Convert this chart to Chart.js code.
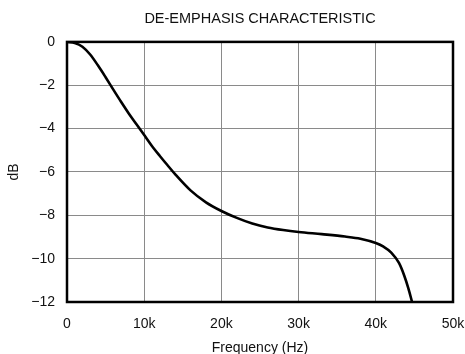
<!DOCTYPE html>
<html>
<head>
<meta charset="utf-8">
<script src="https://cdn.jsdelivr.net/npm/chart.js@4"></script>
<style>
  html, body { margin: 0; padding: 0; background: #fff; }
  #wrap { width: 465px; height: 354px; }
</style>
</head>
<body>
<div id="wrap"><canvas id="deemph"></canvas></div>
<script>
// curve
const freqs = [0, 1000, 2000, 3000, 4000, 5000, 6000, 7000, 8000, 9000, 10000, 11000, 12000, 13000, 14000, 16000, 18000, 20000, 22000, 24000, 26000, 28000, 30000, 33000, 36000, 38000, 40000, 41000, 42000, 43000, 43700, 44200, 44700];
const dbVals = [0, -0.05, -0.22, -0.58, -1.08, -1.63, -2.2, -2.76, -3.3, -3.8, -4.3, -4.8, -5.25, -5.68, -6.1, -6.85, -7.4, -7.8, -8.12, -8.38, -8.56, -8.68, -8.77, -8.87, -8.98, -9.08, -9.28, -9.45, -9.72, -10.2, -10.8, -11.35, -12.0];
const xTicks = [0, 10000, 20000, 30000, 40000, 50000];
const yTicks = [0, -2, -4, -6, -8, -10, -12];

const FONT = "'Liberation Sans', Arial, sans-serif";

// black frame round the plot area
const framePlugin = {
    id: 'frame',
    afterLayout(chart) {
        // centre the title over the plot area, not the canvas
        const tb = chart.titleBlock;
        if (tb) {
            tb.left = chart.chartArea.left;
            tb.right = chart.chartArea.right;
        }
    },
    afterDatasetsDraw(chart) {
        const { ctx, chartArea: a } = chart;
        ctx.save();
        ctx.strokeStyle = '#000';
        ctx.lineWidth = 2.5;
        ctx.strokeRect(a.left, a.top, a.right - a.left, a.bottom - a.top);
        ctx.restore();
    }
};

new Chart(document.getElementById('deemph'), {
    type: 'line',
    data: {
        datasets: [{
            data: freqs.map((f, i) => ({ x: f, y: dbVals[i] })),
            borderColor: '#000',
            borderWidth: 2.6,
            pointRadius: 0,
            fill: false,
            cubicInterpolationMode: 'monotone'
        }]
    },
    options: {
        responsive: true,
        maintainAspectRatio: false,
        animation: false,
        layout: { padding: { left: 0, right: 0, top: 0, bottom: 0 } },
        plugins: {
            legend: { display: false },
            tooltip: { enabled: false },
            title: {
                display: true,
                text: 'DE-EMPHASIS CHARACTERISTIC',
                color: '#111',
                font: { family: FONT, size: 14.5, weight: 'normal' },
                padding: { top: 10, bottom: 14.5 }
            }
        },
        scales: {
            x: {
                type: 'linear',
                min: 0,
                max: 50000,
                afterBuildTicks: s => { s.ticks = xTicks.map(v => ({ value: v })); },
                afterFit: s => {
                    s.height = 52;
                    s.paddingLeft = 0;
                    s.paddingRight = 12;
                },
                grid: { color: '#8a8a8a', lineWidth: 1, drawTicks: false },
                border: { display: false },
                ticks: {
                    padding: 14,
                    color: '#111',
                    font: { family: FONT, size: 14 },
                    callback: v => v === 0 ? '0' : (v / 1000) + 'k'
                },
                title: {
                    display: true,
                    text: 'Frequency (Hz)',
                    color: '#111',
                    font: { family: FONT, size: 14 },
                    padding: { top: 0, bottom: -3 }
                }
            },
            y: {
                type: 'linear',
                min: -12,
                max: 0,
                afterBuildTicks: s => { s.ticks = yTicks.map(v => ({ value: v })); },
                afterFit: s => { s.width = 67; },
                grid: { color: '#8a8a8a', lineWidth: 1, drawTicks: false },
                border: { display: false },
                ticks: {
                    padding: 12,
                    color: '#111',
                    font: { family: FONT, size: 14 },
                    callback: v => v === 0 ? '0' : '\u2212' + Math.abs(v)
                },
                title: {
                    display: true,
                    text: 'dB',
                    color: '#111',
                    font: { family: FONT, size: 14 },
                    padding: { top: 6, bottom: 0 }
                }
            }
        }
    },
    plugins: [framePlugin]
});
</script>
</body>
</html>
